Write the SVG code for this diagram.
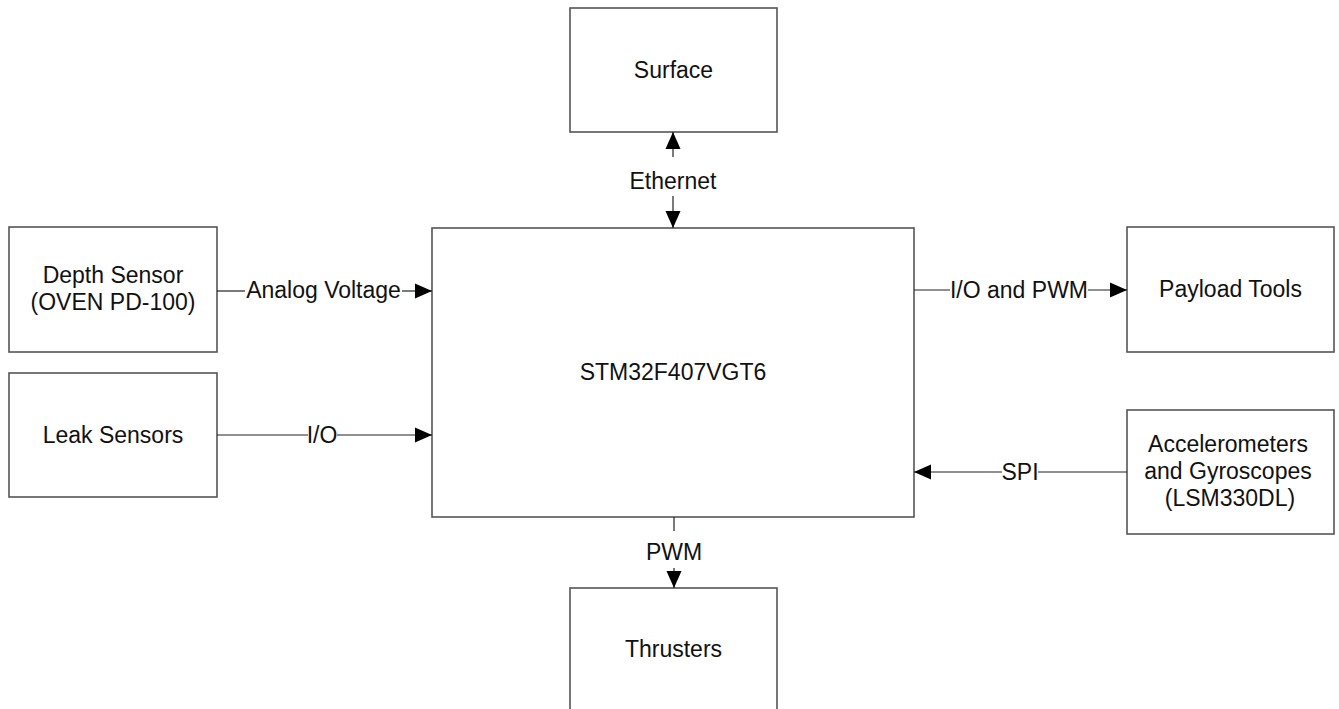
<svg xmlns="http://www.w3.org/2000/svg" width="1339" height="709" viewBox="0 0 1339 709">
<style>
.box{fill:#fff;stroke:#555;stroke-width:1.6}
.t{font-family:"Liberation Sans",Arial,sans-serif;font-size:23px;fill:#111;text-anchor:middle}
.c{stroke:#222;stroke-width:1.2;fill:none}
</style>
<defs>
<marker id="ah" markerUnits="userSpaceOnUse" markerWidth="18" markerHeight="16" refX="17" refY="8" orient="auto-start-reverse">
<path d="M0,0.5 L17,8 L0,15.5 z" fill="#000"/>
</marker>
</defs>
<rect width="1339" height="709" fill="#fff"/>
<g id="surface"><rect class="box" x="570" y="8" width="207" height="124"/><text class="t" x="673.5" y="78">Surface</text></g>
<g id="mcu"><rect class="box" x="432" y="228" width="482" height="289"/><text class="t" x="673" y="380">STM32F407VGT6</text></g>
<g id="depth"><rect class="box" x="9" y="227" width="208" height="125"/><text class="t" x="113" y="283">Depth Sensor</text><text class="t" x="113" y="310">(OVEN PD-100)</text></g>
<g id="leak"><rect class="box" x="9" y="373" width="208" height="124"/><text class="t" x="113" y="443">Leak Sensors</text></g>
<g id="payload"><rect class="box" x="1127" y="227" width="207" height="125"/><text class="t" x="1230.5" y="297">Payload Tools</text></g>
<g id="imu"><rect class="box" x="1127" y="410" width="207" height="124"/><text class="t" x="1228" y="452">Accelerometers</text><text class="t" x="1228" y="479">and Gyroscopes</text><text class="t" x="1230" y="506">(LSM330DL)</text></g>
<g id="thrusters"><rect class="box" x="570" y="588" width="207" height="130"/><text class="t" x="673.5" y="657">Thrusters</text></g>
<g id="connectors">
<line class="c" x1="673" y1="157" x2="673" y2="132" marker-end="url(#ah)"/>
<line class="c" x1="673" y1="196" x2="673" y2="228" marker-end="url(#ah)"/>
<text class="t" x="673" y="189">Ethernet</text>
<line class="c" x1="217" y1="291" x2="245" y2="291"/>
<line class="c" x1="402" y1="291" x2="432" y2="291" marker-end="url(#ah)"/>
<text class="t" x="323.5" y="298">Analog Voltage</text>
<line class="c" x1="217" y1="435" x2="308" y2="435"/>
<line class="c" x1="337" y1="435" x2="432" y2="435" marker-end="url(#ah)"/>
<text class="t" x="322" y="443">I/O</text>
<line class="c" x1="914" y1="290" x2="950" y2="290"/>
<line class="c" x1="1088" y1="290" x2="1127" y2="290" marker-end="url(#ah)"/>
<text class="t" x="1019" y="298">I/O and PWM</text>
<line class="c" x1="1127" y1="472" x2="1038" y2="472"/>
<line class="c" x1="1002" y1="472" x2="914" y2="472" marker-end="url(#ah)"/>
<text class="t" x="1020" y="480">SPI</text>
<line class="c" x1="674" y1="517" x2="674" y2="531"/>
<line class="c" x1="674" y1="568" x2="674" y2="588" marker-end="url(#ah)"/>
<text class="t" x="674" y="560">PWM</text>
</g>
</svg>
